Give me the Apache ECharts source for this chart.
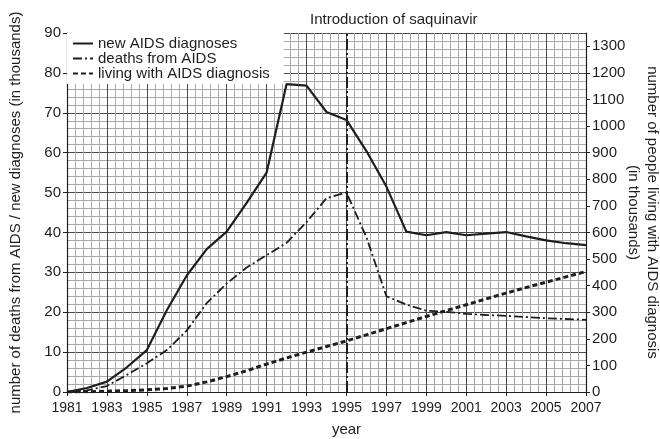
<!DOCTYPE html>
<html>
<head>
<meta charset="utf-8">
<script src="https://cdn.jsdelivr.net/npm/echarts@6/dist/echarts.min.js"></script>
<style>
  html, body { margin: 0; padding: 0; background: #fff; }
  #chart { width: 660px; height: 439px; }
</style>
</head>
<body>
<div id="chart"></div>
<script>
// years on the x axis
const years = [1981, 1982, 1983, 1984, 1985, 1986, 1987, 1988, 1989, 1990, 1991, 1992, 1993, 1994,
    1995, 1996, 1997, 1998, 1999, 2000, 2001, 2002, 2003, 2004, 2005, 2006, 2007];
// thousands, left axis
const newDiagnoses = [0, 1.0, 2.6, 6.2, 10.5, 20.5, 29.2, 35.8, 40.2, 47.4, 55, 77.2, 76.8, 70.2,
    68.2, 60.4, 51.5, 40.2, 39.3, 40.1, 39.3, 39.7, 40.1, 39.0, 38.0, 37.3, 36.8];
const deaths = [0, 0.4, 1.5, 4.3, 7.2, 10.5, 15.4, 22.3, 27.2, 31.2, 34.3, 37.4, 42.6, 48.6,
    50.0, 38.8, 24.0, 21.9, 20.4, 20.1, 19.6, 19.3, 19.1, 18.8, 18.5, 18.3, 18.1];
// thousands, right axis
const living = [0, 1, 3, 5, 8, 13, 22, 38, 58, 80, 105, 128, 150, 171,
    192, 215, 238, 261, 284, 306, 328, 350, 372, 393, 413, 433, 453];

const saquinavirYear = 1995;
const baseYear = years[0];
const leftTicks = [0, 10, 20, 30, 40, 50, 60, 70, 80, 90];
const rightTicks = [0, 100, 200, 300, 400, 500, 600, 700, 800, 900, 1000, 1100, 1200, 1300];

const FONT = "'Liberation Sans', Arial, sans-serif";
const INK = '#1e1e1e';

function pairs(vals) {
    return years.map(function (y, i) { return [y - baseYear, vals[i]]; });
}

const chart = echarts.init(document.getElementById('chart'));

chart.setOption({
    animation: false,
    textStyle: { fontFamily: FONT, color: INK },
    title: {
        text: 'Introduction of saquinavir',
        left: 310, top: 12, padding: 0,
        textStyle: { fontSize: 15, fontWeight: 'normal', color: INK, fontFamily: FONT }
    },
    legend: {
        orient: 'vertical',
        left: 67, top: 33,
        padding: [3, 14, 3, 5],
        backgroundColor: '#fff',
        itemWidth: 20, itemHeight: 10, itemGap: 0,
        itemStyle: { color: 'transparent', borderColor: 'transparent', borderWidth: 0 },
        textStyle: { fontSize: 15, lineHeight: 15, color: INK },
        data: ['new AIDS diagnoses', 'deaths from AIDS', 'living with AIDS diagnosis']
    },
    grid: { left: 67, right: 74, top: 33, bottom: 47, outerBoundsMode: 'none', containLabel: false },
    xAxis: {
        type: 'value',
        min: 0, max: 26, interval: 2,
        name: 'year', nameLocation: 'middle', nameGap: 30,
        nameTextStyle: { fontSize: 15, color: INK, padding: [0, 0, 0, 40] },
        axisLine: { lineStyle: { color: INK, width: 1.2 } },
        axisTick: { show: true, length: 4, lineStyle: { color: INK } },
        axisLabel: {
            fontSize: 14, color: INK, margin: 9,
            formatter: function (v) { return String(v + baseYear); }
        },
        minorTick: { show: false, splitNumber: 5 },
        splitLine: { show: true, lineStyle: { color: '#4a4a4a', width: 1 } },
        minorSplitLine: { show: true, lineStyle: { color: '#aaa', width: 1 } }
    },
    yAxis: [{
        type: 'value',
        min: 0, max: 90, interval: 10,
        name: 'number of deaths from AIDS / new diagnoses (in thousands)',
        nameLocation: 'middle', nameGap: 44,
        nameTextStyle: { fontSize: 15, color: INK },
        axisLine: { show: true, lineStyle: { color: INK, width: 1.2 } },
        axisTick: { show: true, length: 4, lineStyle: { color: INK } },
        axisLabel: { fontSize: 15, color: INK, margin: 6, customValues: leftTicks },
        minorTick: { show: false, splitNumber: 5 },
        splitLine: { show: true, lineStyle: { color: '#4a4a4a', width: 1 } },
        minorSplitLine: { show: true, lineStyle: { color: '#aaa', width: 1 } }
    }, {
        type: 'value',
        position: 'right',
        min: 0, max: 1350, interval: 100,
        name: 'number of people living with AIDS diagnosis\n(in thousands)',
        nameLocation: 'middle', nameGap: 38, nameRotate: -90, nameMoveOverlap: false,
        nameTextStyle: { fontSize: 15, color: INK, lineHeight: 19 },
        axisLine: { show: true, lineStyle: { color: INK, width: 1.2 } },
        axisTick: { show: true, length: 4, lineStyle: { color: INK }, customValues: rightTicks },
        axisLabel: {
            fontSize: 15, color: INK, margin: 6, customValues: rightTicks,
            formatter: function (v) { return String(v); }
        },
        splitLine: { show: false }
    }],
    series: [{
        name: 'new AIDS diagnoses',
        type: 'line',
        data: pairs(newDiagnoses),
        symbol: 'none',
        lineStyle: { color: INK, width: 2.2 },
        itemStyle: { color: INK }
    }, {
        name: 'deaths from AIDS',
        type: 'line',
        data: pairs(deaths),
        symbol: 'none',
        lineStyle: { color: INK, width: 1.8, type: [9, 3, 2, 3] },
        itemStyle: { color: INK },
        markLine: {
            silent: true,
            symbol: 'none',
            label: { show: false },
            lineStyle: { color: INK, width: 2, type: [11, 3, 2, 3] },
            data: [{ xAxis: saquinavirYear - baseYear }]
        }
    }, {
        name: 'living with AIDS diagnosis',
        type: 'line',
        yAxisIndex: 1,
        data: pairs(living),
        symbol: 'none',
        lineStyle: { color: INK, width: 3, type: [5, 3] },
        itemStyle: { color: INK }
    }]
});
</script>
</body>
</html>
